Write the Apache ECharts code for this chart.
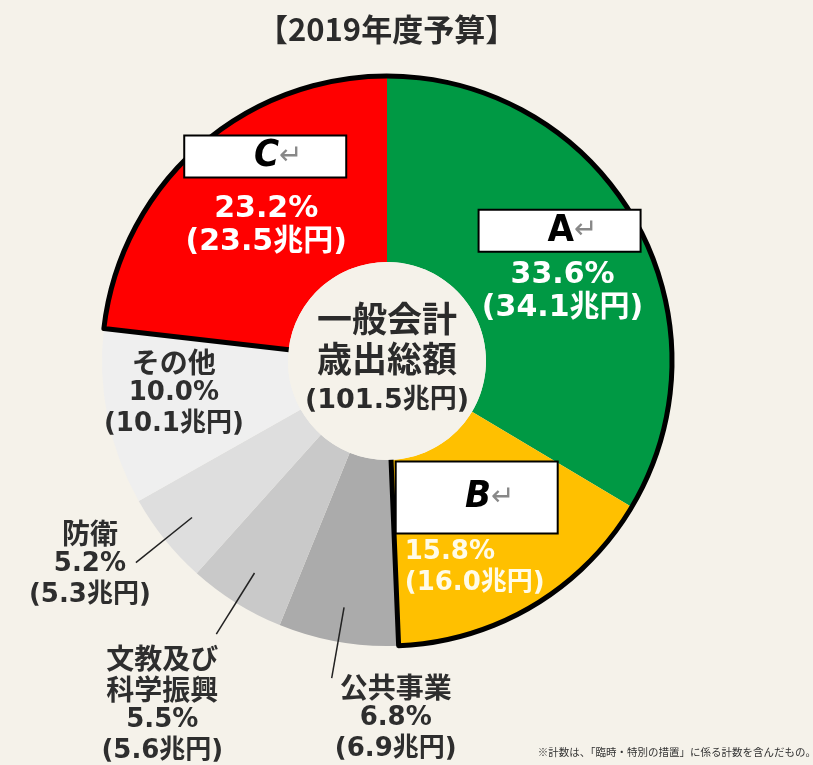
<!DOCTYPE html>
<html lang="ja">
<head>
<meta charset="UTF-8">
<title>2019年度予算</title>
<script src="https://cdn.jsdelivr.net/npm/echarts@6/dist/echarts.min.js"></script>
<style>
    body, html {
        margin: 0;
        height: 100%;
        background: #f5f2ea;
    }

    #chart {
        width: 813px;
        height: 765px;
    }
</style>
</head>
<body>
<div id="chart"></div>
<script>
    // 区分・構成比(%)・金額(兆円)
    const categories = ['A', 'B', '公共事業', '文教及び\n科学振興', '防衛', 'その他', 'C'];
    const shares = [33.6, 15.8, 6.8, 5.5, 5.2, 10.0, 23.2];
    const amounts = [34.1, 16.0, 6.9, 5.6, 5.3, 10.1, 23.5];
    const totalAmount = 101.5;
    const framed = ['A', 'B', 'C'];                 // 太枠で囲む区分
    const outsideLabels = ['公共事業', '文教及び\n科学振興', '防衛'];

    const sliceColors = ['#009944', '#ffc000', '#ababab', '#c9c9c9', '#dedede', '#efefef', '#ff0000'];
    const BG = '#f5f2ea';
    const FONT = "'DejaVu Sans', 'Noto Sans CJK JP', sans-serif";
    const FONT_JP = "'Noto Sans CJK JP', sans-serif";
    const CENTER = [387, 361];
    const R0 = 99, R = 285;
    const R_LEADER = 250;   // 引き出し線の始点の半径

    // ラベル位置の微調整 (echartsのデフォルト位置からのずれ, px)
    const textShift = {A: [6, 27], B: [-12, 39], C: [9, 10], 'その他': [-22, -6]};
    const outerShift = {'公共事業': [64, 40], '文教及び\n科学振興': [-54, 71], '防衛': [-46, 2]};
    const boxShift = {A: [3, -34], B: [-10, -31], C: [8, -59]};

    const chart = echarts.init(document.getElementById('chart'));

    const pctText = i => shares[i].toFixed(1) + '%';
    const amtText = i => '(' + amounts[i].toFixed(1) + '兆円)';
    const darkLabel = (name, i) =>
        name.split('\n').map(s => '{n|' + s + '}').join('\n') + '\n{v|' + pctText(i) + '}\n{v|' + amtText(i) + '}';

    const darkRich = {
        n: {fontFamily: FONT_JP, fontSize: 28, fontWeight: 'bold', color: '#2e2e2e', lineHeight: 31},
        v: {fontFamily: FONT, fontSize: 26, fontWeight: 'bold', color: '#2e2e2e', lineHeight: 31}
    };

    const ringData = categories.map((name, i) => {
        const item = {name, value: shares[i], itemStyle: {color: sliceColors[i]}};
        if (outsideLabels.includes(name)) {
            item.label = {show: false};
        } else if (name === 'その他') {
            item.label = {formatter: darkLabel(name, i)};
        } else if (name === 'B') {
            item.label = {formatter: '{b|' + pctText(i) + '}\n{b|' + amtText(i) + '}'};
        } else {
            item.label = {formatter: '{w|' + pctText(i) + '}\n{w|' + amtText(i) + '}'};
        }
        return item;
    });

    // 灰色区分の外側ラベル (引き出し線つき)
    const leaderData = categories.map((name, i) => {
        const item = {name, value: shares[i]};
        if (outsideLabels.includes(name)) {
            item.label = {show: true, formatter: darkLabel(name, i)};
            item.labelLine = {show: true};
        }
        return item;
    });

    const boxData = categories.map((name, i) => {
        const item = {name, value: shares[i]};
        if (framed.includes(name)) {
            const k = name === 'A' ? 'k' : (name === 'B' ? 'kb' : 'ki');
            const r = name === 'B' ? 'rb' : 'r';
            item.label = {show: true, formatter: '{' + k + '|' + name + '}{' + r + '|↵}'};
        }
        return item;
    });

    // 太枠: C→A→B を一つの扇形として輪郭だけ描く
    const iA = categories.indexOf('A'), iB = categories.indexOf('B'), iC = categories.indexOf('C');
    const sumAll = shares.reduce((a, b) => a + b, 0);
    const frameSum = shares[iA] + shares[iB] + shares[iC];
    const frameStart = 90 + 360 * shares[iC] / sumAll;

    const option = {
        backgroundColor: BG,
        animation: false,
        title: [
            {
                text: '【2019年度予算】',
                left: 252,
                top: 9,
                textStyle: {fontFamily: FONT_JP, fontSize: 31, fontWeight: 'bold', color: '#2b2b2b'}
            },
            {
                text: '※計数は、「臨時・特別の措置」に係る計数を含んだもの。',
                right: -8,
                bottom: 3,
                textStyle: {fontFamily: FONT_JP, fontSize: 10.5, fontWeight: 'normal', color: '#333'}
            }
        ],
        series: [
            {
                name: 'ring',
                type: 'pie',
                z: 2,
                center: CENTER,
                radius: [R0, R],
                startAngle: 90,
                clockwise: true,
                avoidLabelOverlap: false,
                silent: true,
                itemStyle: {borderWidth: 0},
                label: {
                    show: true,
                    position: 'inside',
                    rich: Object.assign({
                        w: {fontFamily: FONT, fontSize: 30, fontWeight: 'bold', color: '#fff', lineHeight: 33},
                        b: {fontFamily: FONT, fontSize: 26, fontWeight: 'bold', color: '#fffbe8', lineHeight: 31, align: 'left'}
                    }, darkRich)
                },
                labelLine: {show: false},
                labelLayout: function (params) {
                    const s = textShift[categories[params.dataIndex]];
                    return s ? {dx: s[0], dy: s[1]} : {};
                },
                data: ringData
            },
            {
                name: 'frame',
                type: 'pie',
                z: 3,
                center: CENTER,
                radius: [0, R],
                startAngle: frameStart,
                clockwise: true,
                silent: true,
                label: {show: false},
                labelLine: {show: false},
                data: [
                    {value: frameSum, itemStyle: {color: 'rgba(0,0,0,0)', borderColor: '#000', borderWidth: 5}},
                    {value: sumAll - frameSum, itemStyle: {color: 'rgba(0,0,0,0)', borderWidth: 0}}
                ]
            },
            {
                name: 'center',
                type: 'pie',
                z: 4,
                center: CENTER,
                radius: [0, R0],
                silent: true,
                itemStyle: {color: BG},
                label: {
                    show: true,
                    position: 'center',
                    formatter: '{t|一般会計}\n{t|歳出総額}\n{s|(' + totalAmount.toFixed(1) + '兆円)}',
                    rich: {
                        t: {fontFamily: FONT_JP, fontSize: 35, fontWeight: 'bold', color: '#2b2b2b', lineHeight: 40},
                        s: {fontFamily: FONT, fontSize: 27, fontWeight: 'bold', color: '#2b2b2b', lineHeight: 44}
                    }
                },
                labelLine: {show: false},
                data: [{value: totalAmount, name: '一般会計歳出総額'}]
            },
            {
                name: 'leaders',
                type: 'pie',
                z: 5,
                center: CENTER,
                radius: [R0, R_LEADER],
                startAngle: 90,
                clockwise: true,
                avoidLabelOverlap: false,
                silent: true,
                itemStyle: {color: 'rgba(0,0,0,0)'},
                label: {show: false, position: 'outside', rich: darkRich},
                labelLine: {show: false, showAbove: true, length: R + 37 - R_LEADER, length2: 0, lineStyle: {color: '#222', width: 1.5}},
                labelLayout: function (params) {
                    const name = categories[params.dataIndex];
                    const pts = params.labelLinePoints;
                    if (!outerShift[name] || !pts) return {};
                    const end = pts[1];
                    return {
                        x: end[0] + outerShift[name][0],
                        y: end[1] + outerShift[name][1],
                        align: 'center',
                        verticalAlign: 'middle',
                        labelLinePoints: [pts[0], end]
                    };
                },
                data: leaderData
            },
            {
                name: 'boxes',
                type: 'pie',
                z: 6,
                center: CENTER,
                radius: [R0, R],
                startAngle: 90,
                clockwise: true,
                avoidLabelOverlap: false,
                silent: true,
                itemStyle: {color: 'rgba(0,0,0,0)'},
                label: {
                    show: false,
                    position: 'inside',
                    backgroundColor: '#fff',
                    borderColor: '#000',
                    borderWidth: 2,
                    width: 134,
                    padding: [0, 0, 0, 26],
                    rich: {
                        k: {fontFamily: "'DejaVu Sans Condensed', 'DejaVu Sans'", fontSize: 38, fontWeight: 'bold', color: '#000', lineHeight: 40},
                        ki: {fontFamily: "'DejaVu Sans Condensed', 'DejaVu Sans'", fontSize: 38, fontWeight: 'bold', fontStyle: 'italic', color: '#000', lineHeight: 40},
                        kb: {fontFamily: "'DejaVu Sans Condensed', 'DejaVu Sans'", fontSize: 38, fontWeight: 'bold', fontStyle: 'italic', color: '#000', lineHeight: 70},
                        r: {fontFamily: FONT, fontSize: 28, color: '#888', lineHeight: 40},
                        rb: {fontFamily: FONT, fontSize: 28, color: '#888', lineHeight: 70}
                    }
                },
                labelLine: {show: false},
                labelLayout: function (params) {
                    const s = boxShift[categories[params.dataIndex]];
                    return s ? {dx: s[0], dy: s[1]} : {};
                },
                data: boxData
            }
        ]
    };

    chart.setOption(option);
</script>
</body>
</html>
